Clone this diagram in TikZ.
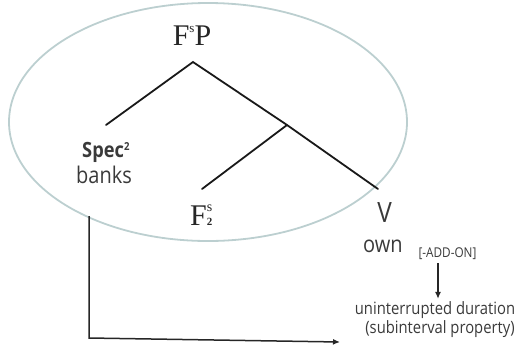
\documentclass[tikz,border=0pt]{standalone}
\usepackage{fontspec}
\setmainfont{Liberation Serif}
\newfontfamily\osans[FakeStretch=0.87]{Open Sans}
\usetikzlibrary{arrows.meta}
\definecolor{ringcol}{HTML}{BCCFD0}
\definecolor{txtgray}{HTML}{3A3A3A}
\newcommand{\fsz}[1]{\fontsize{#1}{#1}\selectfont}

\begin{document}
\begin{tikzpicture}[x=1pt, y=-1pt,
  serif/.style={inner sep=0pt, anchor=base, font=\fsz{30}, text=black!85},
  sans/.style={inner sep=0pt, anchor=base, font=\osans\fsz{23}, text=txtgray},
  branch/.style={line width=1.8pt, line cap=round, draw=black!90},
  arr/.style={-{Latex[length=7pt,width=6pt]}, line width=1.5pt, draw=black!85},
  ]
  \useasboundingbox (0,0) rectangle (521,349);

  % the FsP domain
  \draw[ringcol, line width=1.8pt] (208,122) ellipse [x radius=199, y radius=119];

  % tree
  \node[serif] (fsp) at (192,45) {F\raisebox{13pt}{\fsz{13}s}P};
  \coordinate (top) at (193,62);
  \coordinate (specend) at (106,125);
  \coordinate (mid) at (287,125);
  \coordinate (fend) at (202,189);
  \coordinate (vend) at (378,189);
  \draw[branch] (specend) -- (top) -- (mid) -- (vend);
  \draw[branch] (mid) -- (fend);

  \node[sans, font=\osans\bfseries\fsz{21}, anchor=base west] (spec) at (82,157) {Spec\raisebox{7pt}{\fsz{11}2}};
  \node[sans] (banks) at (104,183) {banks};
  \node[serif, anchor=base west] (f2) at (190,225) {F\shortstack[l]{\fsz{14}s\\[3pt]\fsz{11}\bfseries 2}};
  \node[sans, font=\osans\fsz{28}] (v) at (384.5,222) {V};
  \node[sans] (own) at (383,252) {own};
  \node[sans, font=\osans\fsz{13.5}] (addon) at (447.5,257) {[-ADD-ON]};

  % aspectual effect
  \node[sans, font=\osans\fsz{17}] (dur1) at (435,314) {uninterrupted duration};
  \node[sans, font=\osans\fsz{17}] (dur2) at (440,333) {(subinterval property)};
  \coordinate (tail) at (438,263);
  \draw[arr, shorten >=2pt] (tail) -- (tail |- dur1.north);

  % link from the specifier
  \coordinate (brtop) at (89,216);
  \coordinate (brcorner) at (89,338);
  \coordinate (brend) at (340,342);
  \draw[arr, line join=miter] (brtop) -- (brcorner) -- (brend);
\end{tikzpicture}
\end{document}
